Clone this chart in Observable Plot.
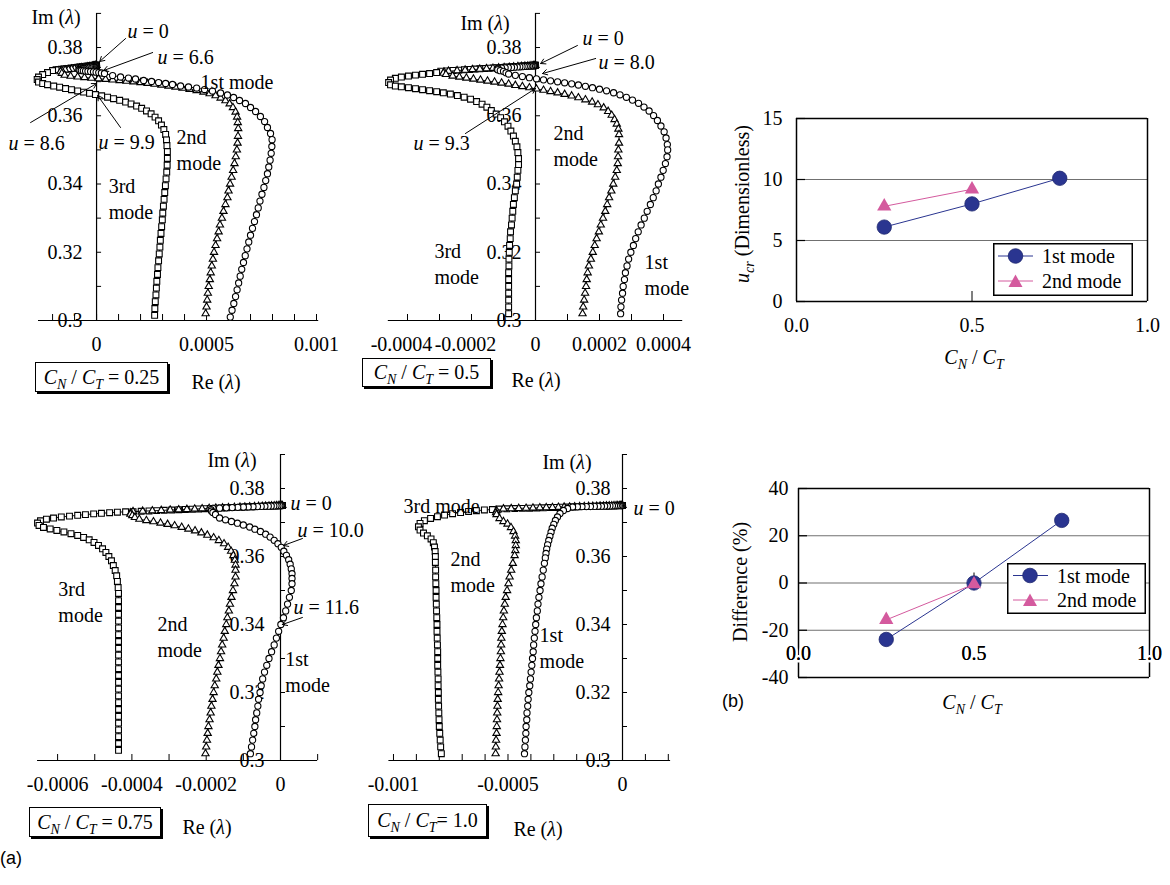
<!DOCTYPE html>
<html><head><meta charset="utf-8">
<script src="https://cdn.jsdelivr.net/npm/d3@7"></script>
<script src="https://cdn.jsdelivr.net/npm/@observablehq/plot@0.6"></script>
<style>
body{margin:0;background:#fff;}
#fig{position:relative;width:1170px;height:885px;overflow:hidden;font-family:"Liberation Serif","Times New Roman",serif;color:#000;background:#fff;}
#fig svg.plotsvg{position:absolute;left:0;top:0;}
.lbl{position:absolute;transform:translate(-50%,-50%);font-size:20px;white-space:nowrap;line-height:1;}
.box{position:absolute;border:1.5px solid #000;box-shadow:2px 2px 0 #000;font-size:20px;display:flex;align-items:center;justify-content:center;white-space:nowrap;background:#fff;}
sub{font-size:14px;vertical-align:-5px;line-height:0;font-style:italic;}
.sans{position:absolute;font-family:"Liberation Sans",Arial,sans-serif;font-size:18px;line-height:1;}
.leg{position:absolute;}
</style></head><body><div id="fig">
<div class="lbl" style="left:56px;top:17px">Im (<i>λ</i>)</div>
<div class="lbl" style="left:216px;top:382px">Re (<i>λ</i>)</div>
<div class="lbl" style="left:485px;top:23px">Im (<i>λ</i>)</div>
<div class="lbl" style="left:536px;top:380px">Re (<i>λ</i>)</div>
<div class="lbl" style="left:232px;top:460px">Im (<i>λ</i>)</div>
<div class="lbl" style="left:207px;top:827px">Re (<i>λ</i>)</div>
<div class="lbl" style="left:567px;top:462px">Im (<i>λ</i>)</div>
<div class="lbl" style="left:538px;top:829px">Re (<i>λ</i>)</div>
<div class="box" style="left:35px;top:362px;width:131px;height:28px"><span><i>C</i><sub>N</sub> / <i>C</i><sub>T</sub> = 0.25</span></div>
<div class="box" style="left:362px;top:358px;width:127px;height:27px"><span><i>C</i><sub>N</sub> / <i>C</i><sub>T</sub> = 0.5</span></div>
<div class="box" style="left:29px;top:807px;width:130px;height:28px"><span><i>C</i><sub>N</sub> / <i>C</i><sub>T</sub> = 0.75</span></div>
<div class="box" style="left:368px;top:804px;width:117px;height:31px"><span><i>C</i><sub>N</sub> / <i>C</i><sub>T</sub>= 1.0</span></div>
<div class="lbl" style="left:742px;top:204px;transform:translate(-50%,-50%) rotate(-90deg)"><i>u</i><sub>cr</sub> (Dimensionless)</div>
<div class="lbl" style="left:740px;top:582px;transform:translate(-50%,-50%) rotate(-90deg)">Difference (%)</div>
<div class="lbl" style="left:974px;top:357px"><i>C</i><sub>N</sub> / <i>C</i><sub>T</sub></div>
<div class="lbl" style="left:972px;top:702px"><i>C</i><sub>N</sub> / <i>C</i><sub>T</sub></div>
<div class="sans" style="left:0px;top:849px">(a)</div>
<div class="sans" style="left:722px;top:692px">(b)</div>
</div>
<script>
// Real part values are stored in units of 1e-4; imaginary part as is.
const RE_UNIT = 1e-4;

// ---- C_N/C_T = 0.25 ----
const cnct025_mode1 = [[0,.3747],[-0.01,.37469],[-0.02,.37468],[-0.03,.37466],[-0.05,.37463],[-0.07,.37461],[-0.1,.37457],[-0.13,.37453],[-0.16,.37449],[-0.2,.37444],[-0.24,.37438],[-0.28,.37432],[-0.33,.37426],[-0.39,.37419],[-0.44,.37411],[-0.51,.37403],[-0.57,.37394],[-0.64,.37385],[-0.71,.37375],[-0.79,.37365],
[-0.8,.37348],[-0.76,.37336],[-0.69,.37326],[-0.6,.37318],[-0.5,.37311],[-0.39,.37304],[-0.27,.37297],[-0.14,.37288],[-0.02,.37278],[0.1,.37266],[0.22,.37253],[0.36,.37238],
[0.73,.37179],[1.09,.37136],[1.45,.37106],[1.77,.37077],[2.14,.37033],[2.5,.37004],[2.82,.36974],[3.14,.36945],[3.45,.36916],[3.82,.36872],[4.18,.36843],[4.55,.36813],[4.91,.36769],[5.27,.36725],[5.64,.36667],[5.95,.36608],[6.23,.36535],[6.5,.36447],[6.77,.36359],[7.0,.36242],[7.23,.36125],[7.45,.35978],[7.64,.35831],[7.77,.35656],[7.91,.3548],
[7.98,.353],[7.97,.351],[7.94,.349],[7.89,.347],[7.83,.345],[7.77,.343],[7.69,.341],[7.61,.339],[7.52,.337],[7.43,.335],[7.35,.333],[7.27,.331],[7.18,.329],[7.09,.327],[7.0,.325],[6.92,.323],[6.84,.321],[6.76,.319],[6.68,.317],[6.6,.315],[6.53,.313],[6.46,.311],[6.39,.309],[6.32,.307],[6.24,.305],[6.16,.303],[6.08,.301]];
const cnct025_mode2 = [[0,.37475],[-0.02,.37474],[-0.04,.37472],[-0.06,.37469],[-0.1,.37466],[-0.14,.37462],[-0.19,.37457],[-0.25,.37451],[-0.32,.37445],[-0.4,.37438],[-0.48,.3743],[-0.57,.37421],[-0.67,.37412],[-0.77,.37402],[-0.89,.37391],[-1.01,.3738],[-1.14,.37367],[-1.28,.37354],[-1.43,.3734],[-1.58,.37326],[-1.64,.37295],[-1.58,.37245],[-1.45,.3719],
[-1.18,.3716],[-0.86,.37141],[-0.55,.37121],[-0.23,.37103],[0.09,.37086],[0.41,.37068],[0.73,.37051],[1.05,.37033],[1.36,.37015],[1.68,.36995],[2.0,.36974],[2.32,.36951],[2.64,.36927],[2.95,.36901],[3.27,.36872],[3.59,.36843],[3.91,.3681],[4.23,.36775],[4.55,.3674],[4.86,.36696],[5.14,.36646],[5.41,.36588],[5.64,.3652],[5.86,.36441],[6.05,.3635],[6.2,.36242],[6.32,.3611],[6.39,.35963],[6.42,.35802],[6.44,.35626],
[6.43,.354],[6.41,.352],[6.38,.35],[6.33,.348],[6.27,.346],[6.21,.344],[6.14,.342],[6.07,.34],[6.0,.338],[5.95,.336],[5.86,.334],[5.77,.332],[5.7,.33],[5.61,.328],[5.55,.326],[5.48,.324],[5.41,.322],[5.34,.32],[5.29,.318],[5.24,.316],[5.19,.314],[5.15,.312],[5.1,.31],[5.06,.308],[5.03,.306],[5.0,.304],[4.96,.302]];
const cnct025_mode3 = [[0,.3748],[-0.01,.37479],[-0.02,.37479],[-0.03,.37478],[-0.05,.37476],[-0.07,.37475],[-0.1,.37473],[-0.13,.37471],[-0.17,.37468],[-0.2,.37465],[-0.25,.37462],[-0.29,.37459],[-0.35,.37455],[-0.4,.37451],[-0.46,.37447],[-0.52,.37442],[-0.59,.37437],[-0.66,.37432],[-0.74,.37427],[-0.82,.37421],[-0.9,.37415],[-0.99,.37408],[-1.08,.37402],[-1.18,.37395],[-1.28,.37388],[-1.38,.3738],[-1.49,.37372],[-1.6,.37364],[-1.72,.37356],[-1.84,.37347],
[-2.0,.37326],[-2.23,.37267],[-2.45,.37209],[-2.64,.37136],[-2.7,.37062],[-2.64,.36989],[-2.45,.36945],[-2.23,.3691],[-1.95,.36872],[-1.68,.36837],[-1.41,.36799],[-1.14,.36763],[-0.86,.36728],[-0.59,.36693],[-0.32,.36658],[-0.05,.36623],[0.23,.36585],[0.5,.36544],[0.77,.365],[1.05,.36453],[1.32,.36403],[1.57,.36347],[1.82,.36286],[2.05,.36218],[2.27,.36142],[2.48,.36057],[2.66,.3596],[2.82,.35852],[2.95,.35729],[3.06,.35597],[3.14,.35451],[3.18,.3529],[3.2,.35128],[3.22,.34952],
[3.22,.3475],[3.21,.3455],[3.19,.3435],[3.16,.3415],[3.13,.3395],[3.1,.3375],[3.07,.3355],[3.04,.3335],[3.01,.3315],[2.99,.3295],[2.96,.3275],[2.93,.3255],[2.9,.3235],[2.88,.3215],[2.85,.3195],[2.82,.3175],[2.79,.3155],[2.77,.3135],[2.74,.3115],[2.72,.3095],[2.7,.3075],[2.67,.3055],[2.65,.3035],[2.64,.3015]];

// ---- C_N/C_T = 0.5 ----
const cnct05_mode1 = [[0,.3747],[-0.01,.37469],[-0.03,.37468],[-0.05,.37467],[-0.07,.37465],[-0.11,.37463],[-0.14,.3746],[-0.19,.37457],[-0.24,.37453],[-0.29,.3745],[-0.35,.37445],[-0.42,.3744],[-0.49,.37435],[-0.57,.3743],[-0.66,.37424],[-0.75,.37418],[-0.85,.37411],[-0.95,.37404],[-1.06,.37396],[-1.17,.37388],[-1.2,.37368],[-1.18,.37345],[-1.1,.37322],[-1.0,.37302],[-0.92,.37262],
[-0.84,.37223],[-0.63,.37185],[-0.41,.3715],[-0.19,.37115],[0.03,.37083],[0.25,.37053],[0.47,.37024],[0.69,.36995],[0.91,.36966],[1.13,.36936],[1.34,.36901],[1.56,.36863],[1.78,.36822],[2.0,.36778],[2.22,.36731],[2.44,.36675],[2.64,.36614],[2.84,.36541],[3.03,.36459],[3.22,.36365],[3.39,.36256],[3.55,.36139],[3.69,.36007],[3.81,.35861],[3.92,.357],[4.02,.3553],[4.08,.35348],[4.12,.35157],
[4.13,.35],[4.11,.348],[4.06,.346],[3.99,.344],[3.92,.342],[3.84,.34],[3.77,.338],[3.68,.336],[3.59,.334],[3.49,.332],[3.4,.33],[3.3,.328],[3.21,.326],[3.13,.324],[3.06,.322],[2.98,.32],[2.91,.318],[2.86,.316],[2.81,.314],[2.78,.312],[2.74,.31],[2.72,.308],[2.69,.306],[2.67,.304],[2.66,.302]];
const cnct05_mode2 = [[0,.37475],[-0.03,.37473],[-0.06,.37471],[-0.11,.37468],[-0.17,.37465],[-0.24,.3746],[-0.33,.37454],[-0.44,.37448],[-0.55,.37441],[-0.68,.37433],[-0.82,.37424],[-0.98,.37415],[-1.15,.37404],[-1.33,.37393],[-1.53,.37381],[-1.74,.37367],[-1.97,.37354],[-2.2,.37339],[-2.45,.37323],[-2.72,.37307],[-2.86,.37282],[-2.88,.37248],[-2.8,.37212],
[-2.59,.37165],[-2.38,.37136],[-2.16,.37106],[-1.94,.37077],[-1.72,.37048],[-1.5,.37018],[-1.28,.36989],[-1.06,.3696],[-0.84,.3693],[-0.63,.36892],[-0.41,.36857],[-0.19,.36822],[0.03,.36787],[0.25,.36749],[0.47,.36711],[0.69,.36673],[0.91,.36629],[1.13,.36582],[1.34,.36529],[1.56,.3647],[1.77,.36403],[1.95,.36324],[2.13,.36233],[2.27,.3613],[2.38,.36016],[2.47,.3589],[2.54,.35758],[2.59,.35612],[2.61,.3545],
[2.61,.352],[2.59,.35],[2.58,.348],[2.57,.346],[2.54,.344],[2.49,.342],[2.43,.34],[2.37,.338],[2.3,.336],[2.24,.334],[2.18,.332],[2.11,.33],[2.04,.328],[1.98,.326],[1.91,.324],[1.85,.322],[1.79,.32],[1.73,.318],[1.67,.316],[1.63,.314],[1.6,.312],[1.58,.31],[1.55,.308],[1.52,.306],[1.49,.304],[1.47,.302]];
const cnct05_mode3 = [[0,.3748],[-0.01,.37479],[-0.03,.37478],[-0.05,.37477],[-0.08,.37475],[-0.12,.37473],[-0.16,.3747],[-0.21,.37468],[-0.27,.37464],[-0.33,.37461],[-0.4,.37456],[-0.47,.37452],[-0.56,.37447],[-0.64,.37442],[-0.74,.37436],[-0.84,.3743],[-0.95,.37424],[-1.07,.37417],[-1.19,.3741],[-1.32,.37402],[-1.45,.37394],[-1.59,.37386],[-1.74,.37377],[-1.89,.37368],[-2.06,.37358],[-2.22,.37349],[-2.4,.37338],[-2.58,.37328],[-2.77,.37316],[-2.96,.37305],
[-3.09,.37267],[-3.31,.37238],[-3.53,.37215],[-3.75,.37191],[-3.97,.37165],[-4.19,.37136],[-4.38,.37097],[-4.53,.37048],[-4.59,.36974],[-4.53,.36907],[-4.38,.36872],[-4.19,.36848],[-3.97,.36822],[-3.75,.36793],[-3.53,.36763],[-3.31,.36734],[-3.09,.36705],[-2.88,.36672],[-2.66,.36637],[-2.44,.36593],[-2.23,.36544],[-2.03,.36485],[-1.84,.36418],[-1.67,.36338],[-1.52,.36251],[-1.38,.36154],[-1.23,.36051],[-1.09,.35943],[-0.97,.35823],[-0.86,.35694],[-0.77,.35553],[-0.69,.35407],[-0.63,.35251],[-0.58,.3509],[-0.55,.34923],[-0.53,.34747],[-0.53,.34571],
[-0.55,.344],[-0.57,.342],[-0.59,.34],[-0.63,.338],[-0.66,.336],[-0.69,.334],[-0.71,.332],[-0.73,.33],[-0.75,.328],[-0.78,.326],[-0.79,.324],[-0.81,.322],[-0.82,.32],[-0.83,.318],[-0.83,.316],[-0.84,.314],[-0.84,.312],[-0.84,.31],[-0.84,.308],[-0.84,.306],[-0.84,.304],[-0.84,.302]];

// ---- C_N/C_T = 0.75 ----
const cnct075_mode1 = [[0.05,.37498],[0.03,.37497],[0.01,.37496],[-0.02,.37495],[-0.07,.37493],[-0.12,.3749],[-0.18,.37488],[-0.25,.37485],[-0.33,.37481],[-0.42,.37477],[-0.52,.37473],[-0.62,.37468],[-0.74,.37463],[-0.87,.37457],[-1.0,.37451],[-1.15,.37444],[-1.3,.37437],[-1.46,.3743],[-1.64,.37422],[-1.82,.37414],[-1.87,.3738],[-1.86,.3734],[-1.82,.37295],[-1.75,.37235],
[-1.64,.37132],[-1.48,.37079],[-1.32,.37029],[-1.16,.36979],[-1.0,.36926],[-0.83,.36868],[-0.69,.36803],[-0.54,.36735],[-0.4,.36656],[-0.28,.3657],[-0.17,.36476],[-0.07,.36376],[0.02,.36271],[0.09,.36156],[0.16,.36035],[0.22,.35906],[0.26,.35774],[0.29,.35635],[0.31,.35494],[0.31,.35353],
[0.31,.352],[0.29,.35],[0.24,.348],[0.19,.346],[0.14,.344],[0.08,.342],[0.01,.34],[-0.05,.338],[-0.11,.336],[-0.17,.334],[-0.24,.332],[-0.31,.33],[-0.37,.328],[-0.43,.326],[-0.48,.324],[-0.52,.322],[-0.55,.32],[-0.59,.318],[-0.61,.316],[-0.64,.314],[-0.67,.312],[-0.69,.31],[-0.72,.308],[-0.75,.306],[-0.78,.304],[-0.81,.302]];
const cnct075_mode2 = [[0.05,.37502],[0.03,.37501],[0.01,.375],[-0.02,.37499],[-0.06,.37497],[-0.11,.37495],[-0.17,.37492],[-0.24,.37489],[-0.31,.37486],[-0.4,.37482],[-0.49,.37478],[-0.59,.37473],[-0.7,.37468],[-0.83,.37463],[-0.96,.37457],[-1.09,.37451],[-1.24,.37444],[-1.4,.37437],[-1.56,.3743],[-1.74,.37422],[-1.92,.37414],[-2.11,.37405],[-2.31,.37396],[-2.52,.37387],[-2.74,.37377],[-2.97,.37367],[-3.21,.37356],[-3.45,.37345],[-3.71,.37334],[-3.97,.37322],[-4.03,.37285],[-4.04,.37245],[-3.99,.37205],[-3.92,.3715],
[-3.8,.37097],[-3.61,.37059],[-3.42,.37024],[-3.23,.36985],[-3.04,.36947],[-2.85,.36906],[-2.66,.36859],[-2.48,.36809],[-2.3,.36756],[-2.13,.36697],[-1.97,.3663],[-1.8,.36553],[-1.66,.36471],[-1.52,.36376],[-1.41,.36271],[-1.33,.36156],[-1.27,.36029],[-1.23,.35894],[-1.21,.3575],[-1.21,.356],
[-1.21,.354],[-1.24,.352],[-1.28,.35],[-1.32,.348],[-1.36,.346],[-1.39,.344],[-1.43,.342],[-1.46,.34],[-1.5,.338],[-1.53,.336],[-1.57,.334],[-1.6,.332],[-1.63,.33],[-1.67,.328],[-1.7,.326],[-1.73,.324],[-1.77,.322],[-1.8,.32],[-1.83,.318],[-1.86,.316],[-1.88,.314],[-1.91,.312],[-1.94,.31],[-1.96,.308],[-1.98,.306],[-2.0,.304],[-2.02,.302]];
const cnct075_mode3 = [[0.05,.375],[0.05,.375],[0.04,.375],[0.02,.37499],[0,.37498],[-0.03,.37496],[-0.06,.37495],[-0.1,.37493],[-0.15,.37491],[-0.2,.37489],[-0.26,.37486],[-0.33,.37483],[-0.4,.3748],[-0.47,.37477],[-0.56,.37473],[-0.65,.37469],[-0.74,.37465],[-0.85,.3746],[-0.96,.37455],[-1.07,.3745],[-1.19,.37445],[-1.32,.37439],[-1.45,.37433],[-1.59,.37427],[-1.74,.3742],[-1.89,.37413],[-2.05,.37406],[-2.21,.37399],[-2.38,.37391],[-2.56,.37383],[-2.74,.37375],[-2.93,.37367],[-3.13,.37358],[-3.33,.37349],[-3.54,.3734],[-3.75,.3733],[-3.97,.3732],
[-4.17,.37315],[-4.39,.37303],[-4.6,.37288],[-4.82,.37271],[-5.03,.37253],[-5.25,.37232],[-5.46,.37212],[-5.68,.37188],[-5.9,.37162],[-6.11,.37132],[-6.3,.37097],[-6.46,.3705],[-6.54,.36985],[-6.5,.36912],[-6.38,.36853],[-6.2,.36809],[-6.02,.36765],[-5.83,.36721],[-5.64,.36671],[-5.46,.36618],[-5.3,.36559],[-5.15,.36491],[-5.02,.36412],[-4.9,.36324],[-4.79,.36226],[-4.7,.36118],[-4.62,.36],[-4.55,.35874],[-4.5,.35735],[-4.45,.35588],[-4.41,.35432],[-4.39,.35265],[-4.37,.35088],[-4.36,.34912],
[-4.36,.347],[-4.36,.345],[-4.36,.343],[-4.36,.341],[-4.36,.339],[-4.36,.337],[-4.36,.335],[-4.36,.333],[-4.36,.331],[-4.36,.329],[-4.36,.327],[-4.36,.325],[-4.36,.323],[-4.36,.321],[-4.36,.319],[-4.36,.317],[-4.36,.315],[-4.36,.313],[-4.36,.311],[-4.36,.309],[-4.36,.307],[-4.36,.305],[-4.36,.303]];

// ---- C_N/C_T = 1.0 ----
const cnct10_mode1 = [[0,.37498],[-0.02,.37498],[-0.05,.37497],[-0.09,.37496],[-0.14,.37495],[-0.2,.37494],[-0.27,.37493],[-0.35,.37491],[-0.44,.3749],[-0.55,.37488],[-0.66,.37485],[-0.78,.37483],[-0.92,.3748],[-1.07,.37477],[-1.23,.37474],[-1.4,.37471],[-1.58,.37468],[-1.77,.37464],[-1.97,.3746],[-2.18,.37456],
[-2.4,.37412],[-2.58,.37353],[-2.73,.37265],[-2.84,.37162],[-2.93,.37059],[-3.0,.36947],[-3.07,.36832],[-3.12,.36715],[-3.17,.36594],[-3.22,.36471],[-3.27,.36344],[-3.31,.36218],[-3.34,.36088],[-3.37,.35959],
[-3.41,.358],[-3.46,.356],[-3.51,.354],[-3.56,.352],[-3.6,.35],[-3.65,.348],[-3.69,.346],[-3.72,.344],[-3.76,.342],[-3.79,.34],[-3.82,.338],[-3.85,.336],[-3.88,.334],[-3.9,.332],[-3.93,.33],[-3.96,.328],[-3.99,.326],[-4.02,.324],[-4.05,.322],[-4.09,.32],[-4.12,.318],[-4.14,.316],[-4.17,.314],[-4.18,.312],[-4.21,.31],[-4.22,.308],[-4.24,.306],[-4.26,.304],[-4.28,.302]];
const cnct10_mode2 = [[0,.37502],[-0.02,.37502],[-0.05,.37501],[-0.09,.375],[-0.14,.37499],[-0.21,.37498],[-0.28,.37497],[-0.37,.37495],[-0.47,.37493],[-0.58,.37491],[-0.7,.37489],[-0.83,.37486],[-0.98,.37483],[-1.13,.3748],[-1.3,.37477],[-1.48,.37474],[-1.67,.3747],[-1.87,.37466],[-2.09,.37462],[-2.31,.37458],[-2.55,.37453],[-2.8,.37448],[-3.06,.37443],[-3.33,.37438],[-3.61,.37433],[-3.91,.37427],[-4.21,.37421],[-4.53,.37415],[-4.86,.37409],[-5.2,.37402],[-5.5,.3735],[-5.52,.37292],[-5.5,.37235],
[-5.37,.37118],[-5.2,.37029],[-5.02,.36956],[-4.87,.36853],[-4.76,.36735],[-4.69,.36603],[-4.66,.3647],[-4.66,.36324],[-4.68,.36176],[-4.71,.36029],
[-4.79,.358],[-4.86,.356],[-4.93,.354],[-4.98,.352],[-5.04,.35],[-5.1,.348],[-5.14,.346],[-5.18,.344],[-5.21,.342],[-5.24,.34],[-5.27,.338],[-5.29,.336],[-5.3,.334],[-5.31,.332],[-5.33,.33],[-5.35,.328],[-5.37,.326],[-5.39,.324],[-5.41,.322],[-5.43,.32],[-5.45,.318],[-5.46,.316],[-5.47,.314],[-5.48,.312],[-5.49,.31],[-5.5,.308],[-5.52,.306],[-5.53,.304],[-5.54,.302]];
const cnct10_mode3 = [[0,.375],[-0.02,.375],[-0.05,.37499],[-0.1,.37498],[-0.15,.37497],[-0.22,.37496],[-0.29,.37494],[-0.38,.37493],[-0.49,.37491],[-0.6,.37488],[-0.73,.37486],[-0.86,.37483],[-1.01,.3748],[-1.18,.37477],[-1.35,.37474],[-1.54,.3747],[-1.73,.37467],[-1.94,.37463],[-2.17,.37458],[-2.4,.37454],[-2.65,.37449],[-2.9,.37444],[-3.17,.37439],[-3.46,.37433],[-3.75,.37428],[-4.06,.37422],[-4.37,.37416],[-4.7,.37409],[-5.05,.37403],[-5.4,.37396],
[-5.68,.37382],[-6.03,.37368],[-6.38,.37347],[-6.72,.37324],[-7.07,.37294],[-7.42,.37259],[-7.77,.37218],[-8.08,.37171],[-8.38,.37118],[-8.65,.37053],[-8.84,.36971],[-8.91,.36874],[-8.84,.36779],[-8.69,.36691],[-8.52,.36609],[-8.36,.36515],[-8.26,.36406],[-8.21,.36279],[-8.18,.36147],[-8.17,.36],[-8.17,.35824],
[-8.16,.356],[-8.16,.354],[-8.15,.352],[-8.14,.35],[-8.14,.348],[-8.13,.346],[-8.12,.344],[-8.11,.342],[-8.1,.34],[-8.1,.338],[-8.09,.336],[-8.08,.334],[-8.07,.332],[-8.07,.33],[-8.07,.328],[-8.06,.326],[-8.05,.324],[-8.05,.322],[-8.04,.32],[-8.04,.318],[-8.03,.316],[-8.02,.314],[-8.01,.312],[-8.0,.31],[-7.98,.308],[-7.96,.306],[-7.94,.304],[-7.91,.302]];

// ---- axis ticks ----
const imTicks = [0.30,0.31,0.32,0.33,0.34,0.35,0.36,0.37,0.38,0.39];
const imTickLabels = [0.3,0.32,0.34,0.36,0.38];
const reTicks025 = [-0.0002,-0.0001,0,0.0001,0.0002,0.0003,0.0004,0.0005,0.0006,0.0007,0.0008,0.0009,0.001];
const reLabels025 = [0,0.0005,0.001];
const reTicks05 = [-0.0004,-0.0003,-0.0002,-0.0001,0,0.0001,0.0002,0.0003,0.0004];
const reLabels05 = [-0.0004,-0.0002,0,0.0002,0.0004];
const reTicks075 = [-0.0006,-0.0005,-0.0004,-0.0003,-0.0002,-0.0001,0,0.0001];
const reLabels075 = [-0.0006,-0.0004,-0.0002,0];
const reTicks10 = [-0.001,-0.0009,-0.0008,-0.0007,-0.0006,-0.0005,-0.0004,-0.0003,-0.0002,-0.0001,0,0.0001,0.0002];
const reLabels10 = [-0.001,-0.0005,0];

// ---- annotations (x in 1e-4 units) ----
const notes025 = [{x:1.41,y:.3847,v:"0"},{x:2.77,y:.3771,v:"6.6"},{x:-4.0,y:.35187,v:"8.6"},{x:0.09,y:.35216,v:"9.9"}];
const arrows025 = [[1.32,.38264,0.14,.3759],[2.55,.37853,0.32,.37326],[-3.0,.35802,0,.36945],[1.09,.35656,0.05,.36593]];
const modeText025 = [{x:4.73,y:.37033,t:"1st mode"},{x:3.64,y:.3504,t:"2nd\nmode"},{x:0.55,y:.3359,t:"3rd\nmode"}];
const notes05 = [{x:1.47,y:.38264,v:"0"},{x:1.97,y:.3756,v:"8.0"},{x:-3.81,y:.35187,v:"9.3"}];
const arrows05 = [[1.31,.38059,0.16,.37531],[1.88,.37678,0.22,.37238],[-2.19,.3548,0,.36799]];
const modeText05 = [{x:0.56,y:.35158,t:"2nd\nmode"},{x:-3.16,y:.317,t:"3rd\nmode"},{x:3.41,y:.31377,t:"1st\nmode"}];
const notes075 = [{x:0.27,y:.37559,v:"0"},{x:0.46,y:.36765,v:"10.0"},{x:0.35,y:.345,v:"11.6"}];
const arrows075 = [[0.59,.36529,0.08,.36324],[0.59,.34206,0.05,.34]];
const modeText075 = [{x:-5.98,y:.34706,t:"3rd\nmode"},{x:-3.31,y:.33676,t:"2nd\nmode"},{x:0.13,y:.32647,t:"1st\nmode"}];
const notes10 = [{x:0.48,y:.37412,v:"0"}];
const arrows10 = [];
const modeText10 = [{x:-9.56,y:.37529,t:"3rd mode"},{x:-7.51,y:.35574,t:"2nd\nmode"},{x:-3.62,y:.33353,t:"1st\nmode"}];

// ---- panel (b) ----
const ratio = [0.25, 0.5, 0.75];
const ucrMode1 = [6.1, 8.0, 10.1];
const ucrMode2 = [7.8, 9.2];
const diffMode1 = [-23.9, 0, 26.5];
const diffMode2 = [-15.6, -0.5];
const ucrTicks = [0, 5, 10, 15];
const diffTicks = [-40, -20, 0, 20, 40];
const ratioTicks = [0, 0.5, 1];

const W = 1170, H = 885, IM_MIN = 0.30, IM_MAX = 0.39;
const STYLE = 'background:transparent;font-family:"Liberation Serif","Times New Roman",serif;overflow:visible;';
const BLUE = "#2a3590", PINK = "#d45a9e";
const fig = document.getElementById("fig");

function curvePanel(c) {
  const kx = (c.xRange[1] - c.xRange[0]) / (c.xDomain[1] - c.xDomain[0]);
  const ky = (c.yRange[0] - c.yRange[1]) / (IM_MAX - IM_MIN);
  const tx = 5 / kx, ty = 6 / ky;
  const X = d => d[0] * RE_UNIT, Y = d => d[1];
  const curveMarks = [];
  for (const [pts, sym, r] of [[c.modes[2], "square", 3.3], [c.modes[1], "triangle", 2.7], [c.modes[0], "circle", 3.1]]) {
    curveMarks.push(Plot.line(pts, {x: X, y: Y, stroke: "#000", strokeWidth: 0.9}));
    curveMarks.push(Plot.dot(pts, {x: X, y: Y, symbol: sym, r, fill: "#fff", stroke: "#000", strokeWidth: 1.1}));
  }
  const neg = c.reLabels.filter(d => d < 0), pos = c.reLabels.filter(d => d >= 0);
  const svg = Plot.plot({
    width: W, height: H, margin: 0, style: STYLE,
    x: {domain: c.xDomain, range: c.xRange, axis: null},
    y: {domain: [IM_MIN, IM_MAX], range: c.yRange, axis: null},
    marks: [
      Plot.text(imTickLabels, {x: 0, y: d => d, text: d => String(d), textAnchor: "end", dx: -c.ylabDx, fontSize: 20}),
      Plot.text(pos, {x: d => d, y: IM_MIN, text: d => String(d), dy: 24, fontSize: 20}),
      Plot.text(neg, {x: d => d, y: IM_MIN, text: d => String(d), dy: 24, dx: c.negDx || 0, fontSize: 20}),
      Plot.ruleY([IM_MIN], {x1: c.xDomain[0], x2: c.xDomain[1], stroke: "#000", strokeWidth: 1.2}),
      Plot.ruleX([0], {y1: IM_MIN, y2: IM_MAX, stroke: "#000", strokeWidth: 1.2}),
      Plot.ruleY(imTicks, {x1: 0, x2: tx, stroke: "#000", strokeWidth: 1}),
      Plot.ruleX(c.reTicks, {y1: IM_MIN, y2: IM_MIN + ty, stroke: "#000", strokeWidth: 1}),
      ...curveMarks,
      Plot.arrow(c.arrows, {x1: d => d[0] * RE_UNIT, y1: d => d[1], x2: d => d[2] * RE_UNIT, y2: d => d[3], stroke: "#000", strokeWidth: 1, headLength: 8}),
      Plot.text(c.notes, {x: d => d.x * RE_UNIT, y: d => d.y, text: () => "u", fontStyle: "italic", textAnchor: "start", fontSize: 20}),
      Plot.text(c.notes, {x: d => d.x * RE_UNIT, y: d => d.y, text: d => "= " + d.v, textAnchor: "start", dx: 15, fontSize: 20}),
      Plot.text(c.modeText, {x: d => d.x * RE_UNIT, y: d => d.y, text: d => d.t, textAnchor: "start", lineHeight: 1.3, fontSize: 20})
    ]
  });
  svg.classList.add("plotsvg");
  fig.appendChild(svg);
}

curvePanel({xDomain: [-0.000264, 0.00101], xRange: [38, 318.2], yRange: [320, 12.9], modes: [cnct025_mode1, cnct025_mode2, cnct025_mode3],
  reTicks: reTicks025, reLabels: reLabels025, notes: notes025, arrows: arrows025, modeText: modeText025, ylabDx: 14});
curvePanel({xDomain: [-0.00046, 0.00046], xRange: [387.8, 682.2], yRange: [320, 12.9], modes: [cnct05_mode1, cnct05_mode2, cnct05_mode3],
  reTicks: reTicks05, reLabels: reLabels05, notes: notes05, arrows: arrows05, modeText: modeText05, ylabDx: 14, negDx: -6});
curvePanel({xDomain: [-0.000654, 0.0001], xRange: [37.04, 317.15], yRange: [760, 454], modes: [cnct075_mode1, cnct075_mode2, cnct075_mode3],
  reTicks: reTicks075, reLabels: reLabels075, notes: notes075, arrows: arrows075, modeText: modeText075, ylabDx: 16});
curvePanel({xDomain: [-0.00102, 0.00021], xRange: [388.4, 670.1], yRange: [760, 454], modes: [cnct10_mode1, cnct10_mode2, cnct10_mode3],
  reTicks: reTicks10, reLabels: reLabels10, notes: notes10, arrows: arrows10, modeText: modeText10, ylabDx: 12});

function summaryPanel(c) {
  const kx = (c.xRange[1] - c.xRange[0]);
  const ky = (c.yRange[0] - c.yRange[1]) / (c.yDomain[1] - c.yDomain[0]);
  const m1 = ratio.map((r, i) => [r, c.mode1[i]]);
  const m2 = ratio.slice(0, c.mode2.length).map((r, i) => [r, c.mode2[i]]);
  const [y0, y1] = c.yDomain;
  const labelOpts = {x: d => d, y: c.xLabAt, text: d => d.toFixed(1), dy: c.xLabDy, fontSize: 20, fill: "#000"};
  const svg = Plot.plot({
    width: W, height: H, margin: 0, style: STYLE,
    x: {domain: [0, 1], range: c.xRange, axis: null},
    y: {domain: c.yDomain, range: c.yRange, axis: null},
    marks: [
      Plot.ruleY(c.grid, {x1: 0, x2: 1, stroke: "#707070", strokeWidth: 1.2}),
      Plot.ruleY(c.yTicks, {x1: 0, x2: 9 / kx, stroke: "#000", strokeWidth: 1.2}),
      Plot.ruleX([0.5], {y1: c.xTickAt, y2: c.xTickAt + 10 / ky, stroke: "#000", strokeWidth: 1}),
      Plot.ruleX([0, 1], {y1: y0, y2: y1, stroke: "#000", strokeWidth: 1.5}),
      Plot.ruleY([y0, y1], {x1: 0, x2: 1, stroke: "#000", strokeWidth: 1.5}),
      Plot.text(c.yTicks, {x: 0, y: d => d, text: d => String(d), textAnchor: "end", dx: -c.ylabDx, fontSize: 20}),
      c.halo ? Plot.text(ratioTicks, {...labelOpts, stroke: "#fff", strokeWidth: 5, strokeLinejoin: "round"}) : null,
      Plot.text(ratioTicks, labelOpts),
      Plot.line(m1, {x: d => d[0], y: d => d[1], stroke: BLUE, strokeWidth: 1}),
      Plot.line(m2, {x: d => d[0], y: d => d[1], stroke: PINK, strokeWidth: 1}),
      Plot.dot(m1, {x: d => d[0], y: d => d[1], symbol: "circle", r: 7.2, fill: BLUE, stroke: "#1f2870", strokeWidth: 0.8}),
      Plot.dot(m2, {x: d => d[0], y: d => d[1], symbol: "triangle", r: 5.3, fill: PINK})
    ]
  });
  svg.classList.add("plotsvg");
  fig.appendChild(svg);
}
summaryPanel({xRange: [796, 1147], yDomain: [0, 15], yRange: [301, 118], mode1: ucrMode1, mode2: ucrMode2, grid: [5, 10], yTicks: ucrTicks,
  xTickAt: 0, xLabAt: 0, xLabDy: 24, ylabDx: 14, halo: false});
summaryPanel({xRange: [798, 1149], yDomain: [-40, 40], yRange: [677, 488], mode1: diffMode1, mode2: diffMode2, grid: [-20, 0, 20], yTicks: diffTicks,
  xTickAt: 0, xLabAt: -20, xLabDy: 23, ylabDx: 10, halo: true});

// legends
function legend(left, top, w, h, lx1, lx2, mx, tx, r1, r2) {
  const s = `<svg class="leg" style="left:${left}px;top:${top}px" width="${w+2}" height="${h+2}">
  <rect x="0.75" y="0.75" width="${w-1.5}" height="${h-1.5}" fill="#fff" stroke="#000" stroke-width="1.5"/>
  <line x1="${lx1}" y1="${r1}" x2="${lx2}" y2="${r1}" stroke="${BLUE}" stroke-width="1"/>
  <circle cx="${mx}" cy="${r1}" r="7.3" fill="${BLUE}" stroke="#1f2870" stroke-width="0.8"/>
  <text x="${tx}" y="${r1}" dy="0.35em" font-size="20" font-family="Liberation Serif,serif">1st mode</text>
  <line x1="${lx1}" y1="${r2}" x2="${lx2}" y2="${r2}" stroke="${PINK}" stroke-width="1"/>
  <path d="M${mx},${r2-6.5} L${mx+7},${r2+6} L${mx-7},${r2+6} Z" fill="${PINK}"/>
  <text x="${tx}" y="${r2}" dy="0.35em" font-size="20" font-family="Liberation Serif,serif">2nd mode</text></svg>`;
  fig.insertAdjacentHTML("beforeend", s);
}
legend(993, 243, 140, 53, 5, 40, 22.5, 49, 13, 38);
legend(1007, 563, 139, 51, 6, 41, 23, 50, 12.5, 37);
</script></body></html>
